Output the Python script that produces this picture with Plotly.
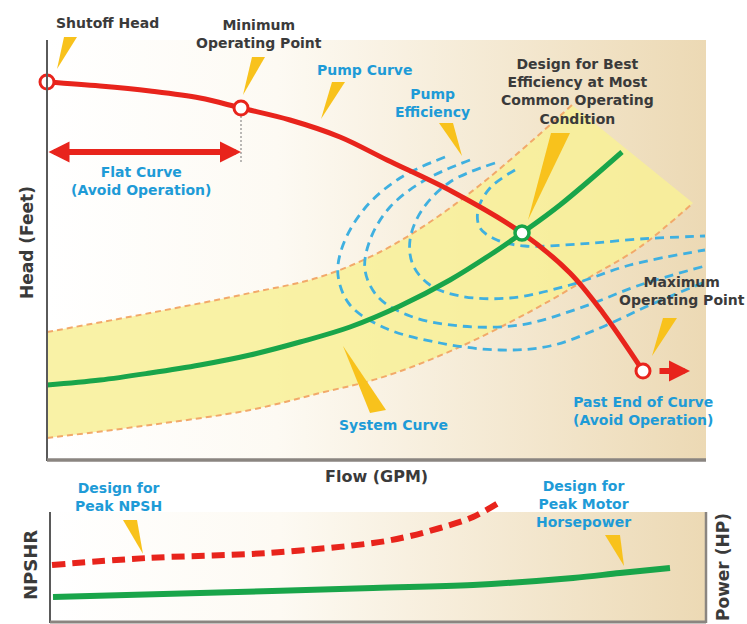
import plotly.graph_objects as go

# ---------------- data (schematic units: flow ~ GPM, head ~ feet) ----------------
pump_flow = [0, 53, 103, 153, 194, 243, 293, 340, 406, 475, 523, 556, 596]
pump_head = [378, 374, 369, 362, 352, 340, 323, 300, 268, 227, 187, 147, 89]

sys_flow = [0, 53, 103, 153, 203, 253, 303, 353, 403, 443, 475, 513, 575]
sys_head = [75, 80, 87, 95, 105, 118, 133, 154, 180, 205, 227, 255, 308]

band_up_flow = [0, 103, 203, 273, 333, 383, 433, 486, 525]
band_up_head = [128, 147, 167, 183, 208, 238, 275, 320, 355]
band_lo_flow = [0, 103, 203, 273, 333, 406, 486, 543, 593, 646]
band_lo_head = [22, 35, 50, 67, 82, 110, 150, 183, 213, 257]

eff1_flow = [398, 353, 318, 296, 291, 303, 338, 393, 453, 503, 553, 603, 658]
eff1_head = [303, 282, 252, 215, 185, 155, 132, 117, 110, 114, 132, 155, 178]
eff2_flow = [423, 378, 343, 323, 318, 331, 363, 413, 473, 533, 593, 658]
eff2_head = [300, 280, 253, 220, 190, 163, 144, 134, 135, 152, 175, 194]
eff3_flow = [448, 403, 375, 363, 366, 383, 413, 463, 523, 583, 658]
eff3_head = [297, 278, 250, 220, 195, 175, 164, 162, 175, 195, 210]
eff4_flow = [468, 443, 431, 433, 450, 478, 533, 593, 658]
eff4_head = [290, 272, 250, 232, 220, 214, 216, 221, 224]

npshr_flow = [2, 97, 217, 323, 356, 390, 423, 450]
npshr_val = [57, 64, 69, 79, 85, 94, 105, 120]
power_flow = [3, 150, 323, 423, 523, 570, 620]
power_val = [25, 29, 34, 37, 44, 49, 54]

# key points on the pump curve (indices into pump arrays)
SHUTOFF_I, MIN_OP_I, BEP_I, MAX_OP_I = 0, 4, 9, 12
FLAT_ARROW_HEAD = 308
MAX_FLOW, MAX_HEAD = 659, 420
MAX_FLOW2, MAX_NPSH = 656, 127

# ---------------- layout helpers (pixel -> paper) ----------------
W, H = 747, 624
def px(x):
    return x / W
def py(y):
    return 1 - y / H

RED = '#e8241c'
GREEN = '#19a54a'
BLUE_TXT = '#1e9bd7'
DARK_TXT = '#3a3a3a'
BLUE_DASH = '#3fb0e0'
ORANGE = '#f2a96a'
GOLD = '#f8c21c'
FONT = 'DejaVu Sans, Verdana, sans-serif'
BG_SCALE = [[0, '#ffffff'], [0.35, '#fdfaf3'], [1, '#ecd9b4']]

fig = go.Figure()

# background gradients
fig.add_trace(go.Scatter(x=[0, MAX_FLOW, MAX_FLOW, 0, 0], y=[0, 0, MAX_HEAD, MAX_HEAD, 0],
                         mode='lines', line=dict(width=0), fill='toself',
                         fillgradient=dict(type='horizontal', colorscale=BG_SCALE),
                         hoverinfo='skip'))
fig.add_trace(go.Scatter(x=[0, MAX_FLOW2, MAX_FLOW2, 0, 0], y=[0, 0, 110, 110, 0],
                         xaxis='x2', yaxis='y2',
                         mode='lines', line=dict(width=0), fill='toself',
                         fillgradient=dict(type='horizontal', colorscale=BG_SCALE),
                         hoverinfo='skip'))

# yellow system-curve band
fig.add_trace(go.Scatter(x=band_lo_flow, y=band_lo_head, mode='lines',
                         line=dict(width=0, shape='spline'), hoverinfo='skip'))
fig.add_trace(go.Scatter(x=band_up_flow, y=band_up_head, mode='lines',
                         line=dict(width=0, shape='spline'), fill='tonexty',
                         fillcolor='rgba(248,240,150,0.85)', hoverinfo='skip'))
for fx, fy in [(band_up_flow, band_up_head), (band_lo_flow, band_lo_head)]:
    fig.add_trace(go.Scatter(x=fx, y=fy, mode='lines',
                             line=dict(color=ORANGE, width=2, dash='6px,4px', shape='spline')))

# pump efficiency curves
for fx, fy in [(eff1_flow, eff1_head), (eff2_flow, eff2_head),
               (eff3_flow, eff3_head), (eff4_flow, eff4_head)]:
    fig.add_trace(go.Scatter(x=fx, y=fy, mode='lines',
                             line=dict(color=BLUE_DASH, width=2.8, dash='9px,6px', shape='spline')))

# min operating point guide
fig.add_trace(go.Scatter(x=[pump_flow[MIN_OP_I]] * 2, y=[pump_head[MIN_OP_I], FLAT_ARROW_HEAD - 11],
                         mode='lines', line=dict(color='#777', width=1, dash='2px,2px')))

# system curve & pump curve
fig.add_trace(go.Scatter(x=sys_flow, y=sys_head, mode='lines',
                         line=dict(color=GREEN, width=5, shape='spline')))
fig.add_trace(go.Scatter(x=pump_flow, y=pump_head, mode='lines',
                         line=dict(color=RED, width=5, shape='spline')))

# markers
idx = [SHUTOFF_I, MIN_OP_I, MAX_OP_I]
fig.add_trace(go.Scatter(x=[pump_flow[i] for i in idx], y=[pump_head[i] for i in idx],
                         mode='markers', cliponaxis=False,
                         marker=dict(size=14, color='white', line=dict(color=RED, width=3))))
fig.add_trace(go.Scatter(x=[pump_flow[BEP_I]], y=[pump_head[BEP_I]], mode='markers',
                         marker=dict(size=14, color='white', line=dict(color=GREEN, width=3.5))))

# bottom panel curves
fig.add_trace(go.Scatter(x=npshr_flow, y=npshr_val, xaxis='x2', yaxis='y2', mode='lines',
                         line=dict(color=RED, width=6, dash='13px,7px', shape='spline')))
fig.add_trace(go.Scatter(x=power_flow, y=power_val, xaxis='x2', yaxis='y2', mode='lines',
                         line=dict(color=GREEN, width=6, shape='spline')))

# ---------------- axes ----------------
fig.update_layout(
    width=W, height=H, margin=dict(l=0, r=0, t=0, b=0),
    paper_bgcolor='white', plot_bgcolor='rgba(0,0,0,0)', showlegend=False,
    xaxis=dict(domain=[px(47), px(706)], range=[0, MAX_FLOW], visible=False, fixedrange=True),
    yaxis=dict(domain=[py(460), py(40)], range=[0, MAX_HEAD], visible=False, fixedrange=True),
    xaxis2=dict(domain=[px(50), px(706)], range=[0, MAX_FLOW2], visible=False, anchor='y2'),
    yaxis2=dict(domain=[py(622), py(495)], range=[0, MAX_NPSH], visible=False, anchor='x2'),
    hovermode=False,
)

shapes = []
def line(x0, y0, x1, y1, color, width):
    shapes.append(dict(type='line', xref='paper', yref='paper', x0=px(x0), y0=py(y0),
                       x1=px(x1), y1=py(y1), line=dict(color=color, width=width), layer='above'))

# axis lines
line(47, 40, 47, 461, '#5a5a5a', 2)
line(47, 460, 706, 460, '#8a8580', 3.5)
line(50, 512, 50, 623, '#5a5a5a', 2)
line(50, 622, 706, 622, '#8a8580', 3)
line(706, 512, 706, 623, '#8a8580', 2.5)

# yellow pointer wedges: (wide end p1, wide end p2, tip)
wedges = [
    ((64, 37), (77, 37), (57, 69)),
    ((252, 57), (265, 57), (243, 95)),
    ((332, 82), (345, 82), (321, 119)),
    ((439, 123), (453, 123), (462, 156)),
    ((551, 133), (570, 133), (528, 220)),
    ((663, 318), (677, 318), (652, 356)),
    ((370, 413), (386, 410), (343, 346)),
    ((123, 520), (137, 520), (143, 554)),
    ((605, 535), (620, 535), (624, 566)),
]
for a, b, c in wedges:
    path = 'M {} {} L {} {} L {} {} Z'.format(px(a[0]), py(a[1]), px(b[0]), py(b[1]), px(c[0]), py(c[1]))
    shapes.append(dict(type='path', xref='paper', yref='paper', path=path,
                       fillcolor=GOLD, line=dict(width=0), layer='above'))
fig.update_layout(shapes=shapes)

# ---------------- annotations ----------------
ann = []
def text(x, y, s, color, size=14, angle=0):
    ann.append(dict(x=px(x), y=py(y), xref='paper', yref='paper', text='<b>' + s + '</b>',
                    showarrow=False, textangle=angle, xanchor='center', yanchor='middle',
                    font=dict(family=FONT, size=size, color=color)))

text(107, 23, 'Shutoff Head', DARK_TXT)
text(259, 34, 'Minimum<br>Operating Point', DARK_TXT)
text(141, 181, 'Flat Curve<br>(Avoid Operation)', BLUE_TXT)
text(364, 70, 'Pump Curve', BLUE_TXT)
text(432, 103, 'Pump<br>Efficiency', BLUE_TXT)
text(577, 91, 'Design for Best<br>Efficiency at Most<br>Common Operating<br>Condition', DARK_TXT)
text(682, 291, 'Maximum<br>Operating Point', DARK_TXT)
text(643, 411, 'Past End of Curve<br>(Avoid Operation)', BLUE_TXT)
text(393, 425, 'System Curve', BLUE_TXT)
text(27, 243, 'Head (Feet)', DARK_TXT, 17, -90)
text(376, 477, 'Flow (GPM)', DARK_TXT, 16)
text(118, 497, 'Design for<br>Peak NPSH', BLUE_TXT, 14)
text(583, 504, 'Design for<br>Peak Motor<br>Horsepower', BLUE_TXT, 14)
text(30, 565, 'NPSHR', DARK_TXT, 18, -90)
text(723, 567, 'Power (HP)', DARK_TXT, 17, -90)

# flat-curve double arrow
ann.append(dict(x=pump_flow[MIN_OP_I], y=FLAT_ARROW_HEAD, ax=pump_flow[SHUTOFF_I], ay=FLAT_ARROW_HEAD,
                xref='x', yref='y', axref='x', ayref='y', text='', showarrow=True,
                arrowhead=2, arrowside='end+start', arrowsize=0.7, arrowwidth=6, arrowcolor=RED))
# past end of curve arrow
ann.append(dict(x=pump_flow[MAX_OP_I] + 47, y=pump_head[MAX_OP_I], ax=pump_flow[MAX_OP_I] + 15,
                ay=pump_head[MAX_OP_I], xref='x', yref='y', axref='x', ayref='y', text='',
                showarrow=True, arrowhead=2, arrowsize=0.7, arrowwidth=6, arrowcolor=RED))
fig.update_layout(annotations=ann)

fig.write_html('out.html', post_script="document.body.style.margin='0';",
               config={'displayModeBar': False})
